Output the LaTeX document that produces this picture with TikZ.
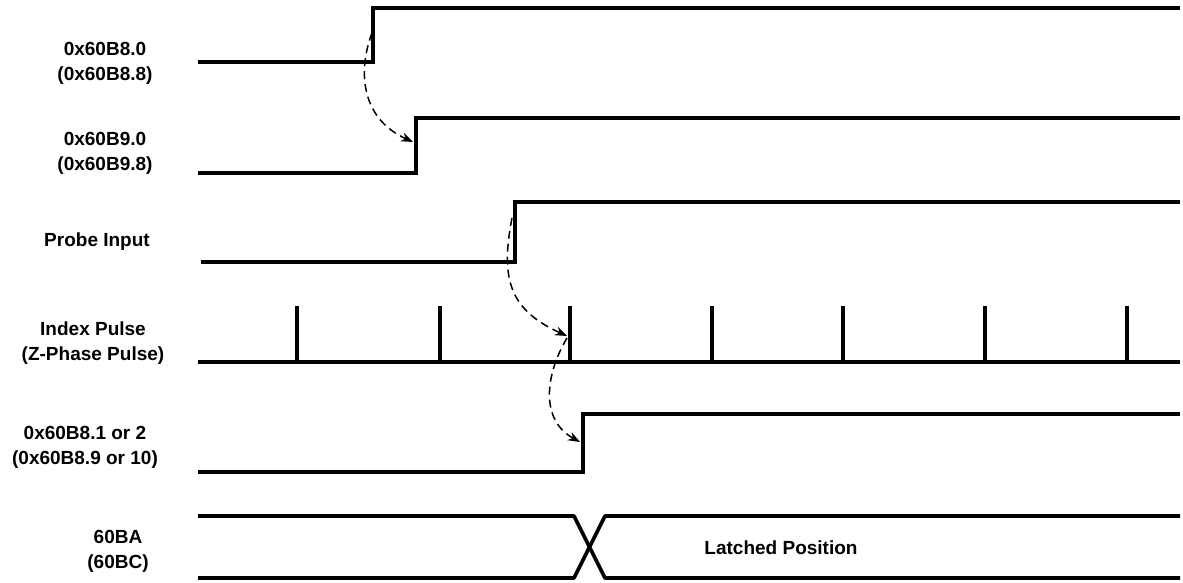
\documentclass[tikz,border=0pt]{standalone}
\usepackage{fontspec}
\setmainfont{Liberation Sans}
\usetikzlibrary{arrows.meta}
\begin{document}
\begin{tikzpicture}[x=1pt,y=-1pt,
  sig/.style={line width=3.6pt,line join=miter},
  causal/.style={line width=1.5pt,dash pattern=on 8pt off 5pt,-{Stealth[length=12pt,width=9pt]}},
  lbl/.style={font=\bfseries\fontsize{19}{25}\selectfont,align=center,inner sep=0pt}]
\useasboundingbox (0,0) rectangle (1183,583);
% labels
\node[lbl] (l1) at (105,63) {0x60B8.0\\(0x60B8.8)};
\node[lbl] (l2) at (105,153) {0x60B9.0\\(0x60B9.8)};
\node[lbl] (l3) at (97,242) {Probe Input};
\node[lbl] (l4) at (93,343) {Index Pulse\\(Z-Phase Pulse)};
\node[lbl] (l5) at (85,447) {0x60B8.1 or 2\\(0x60B8.9 or 10)};
\node[lbl] (l6) at (118,551) {60BA\\(60BC)};
\node[lbl] (lp) at (781,548) {Latched Position};
% coordinates of edges
\coordinate (e1) at (373,8);
\coordinate (e2) at (416,118);
\coordinate (e3) at (515,202);
\coordinate (e5) at (583,414);
% signal 1
\draw[sig] (198,62) -- (373,62) -- (e1) -- (1180,8);
% signal 2
\draw[sig] (198,173) -- (416,173) -- (e2) -- (1180,118);
% probe
\draw[sig] (201,262) -- (515,262) -- (e3) -- (1180,202);
% index pulse
\draw[sig] (198,362) -- (1180,362);
\foreach \x/\n in {297/a,440/b,570/c,712/d,843/e,985/f,1127/g}
  \draw[sig] (\x,362) -- (\x,306) coordinate (p\n);
% signal 5
\draw[sig] (198,472) -- (583,472) -- (e5) -- (1180,414);
% bus
\draw[sig,line join=round] (198,516) -- (574,516) -- (605,578) -- (1180,578);
\draw[sig,line join=round] (198,578) -- (574,578) -- (605,516) -- (1180,516);
% causal arrows
\coordinate (a1s) at (372,33);
\coordinate (a1e) at (413,142);
\draw[causal] (a1s) .. controls (358,70) and (360,118) .. (a1e);
\coordinate (a2s) at (512,218);
\coordinate (a2e) at (567,336);
\draw[causal] (a2s) .. controls (500,280) and (510,310) .. (a2e);
\coordinate (a3s) at (567,338);
\coordinate (a3e) at (580,442);
\draw[causal] (a3s) .. controls (545,375) and (540,420) .. (a3e);
\end{tikzpicture}
\end{document}
